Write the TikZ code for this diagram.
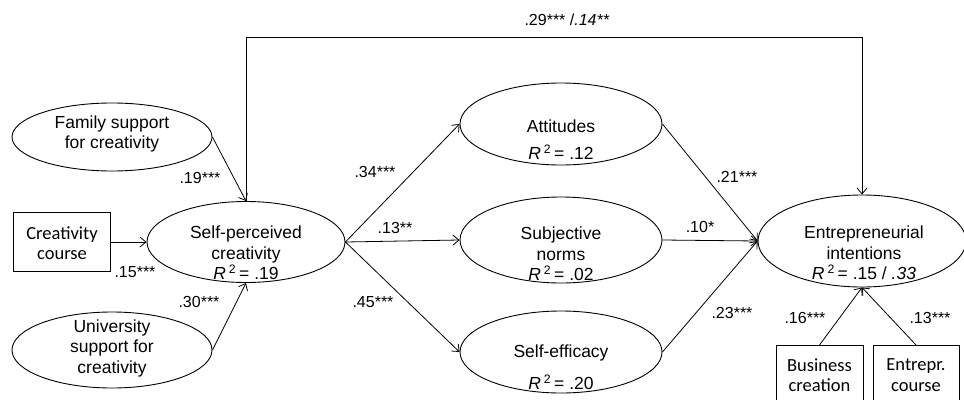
\documentclass[tikz,border=0pt]{standalone}
\usepackage{fontspec}
\setmainfont{Liberation Sans}
\newfontfamily\calfont{Carlito}
\usetikzlibrary{shapes.geometric,arrows.meta}
\newcommand{\rsq}{\textit{R}\,\textsuperscript{2}\,=}
\begin{document}
\begin{tikzpicture}[x=1pt,y=-1pt,
 lat/.style={draw,ellipse,line width=0.9pt,inner sep=0pt},
 obs/.style={draw,rectangle,line width=0.9pt,inner sep=0pt},
 txt/.style={align=center,font=\fontsize{17.5}{20.5}\selectfont,inner sep=0pt},
 btxt/.style={align=center,font=\calfont\fontsize{18.5}{20.5}\selectfont,inner sep=0pt},
 lab/.style={font=\fontsize{16}{18}\selectfont,inner sep=0pt},
 arr/.style={line width=0.8pt,-{Straight Barb[length=6pt,width=10pt]}},
]
\useasboundingbox (0,0) rectangle (964,399);
% shapes
\node[lat,minimum width=200pt,minimum height=68pt] (fam) at (112,137) {};
\node[obs,minimum width=97pt,minimum height=59pt] (cc) at (62,242) {};
\node[lat,minimum width=198pt,minimum height=81pt] (sp) at (246,242) {};
\node[lat,minimum width=200pt,minimum height=76pt] (uni) at (112,350) {};
\node[lat,minimum width=202pt,minimum height=82pt] (att) at (561,124) {};
\node[lat,minimum width=202pt,minimum height=86pt] (sn) at (561,240) {};
\node[lat,minimum width=202pt,minimum height=82pt] (se) at (561,352) {};
\node[lat,minimum width=208pt,minimum height=92pt] (ei) at (862,241) {};
\node[obs,minimum width=87pt,minimum height=60pt,anchor=north] (bc) at (819.5,345) {};
\node[obs,minimum width=86pt,minimum height=60pt,anchor=north] (ec) at (916,345) {};
% texts
\node[txt] (famt) at (112,134) {Family support\\for creativity};
\node[btxt] (cct) at (62,243) {Creativity\\course};
\node[txt] (spt) at (246,253) {Self-perceived\\creativity\\\rsq{} .19};
\node[txt] (unit) at (112,348) {University\\support for\\creativity};
\node[txt] (attt) at (561,126) {Attitudes};
\node[txt] (attr) at (561,152) {\rsq{} .12};
\node[txt] (snt) at (561,254) {Subjective\\norms\\\rsq{} .02};
\node[txt] (set) at (561,353) {Self-efficacy};
\node[txt] (ser) at (561,382) {\rsq{} .20};
\node[txt] (eit) at (864,253) {Entrepreneurial\\intentions\\\rsq{} .15 / \textit{.33}};
\node[btxt] (bct) at (819.5,375) {Business\\creation};
\node[btxt] (ect) at (916,375) {Entrepr.\\course};
% connectors
\draw[arr] (fam.east) -- (sp.north);
\draw[arr] (cc.east) -- (sp.west);
\draw[arr] (uni.east) -- (sp.south);
\draw[arr] (sp.east) -- (att.west);
\draw[arr] (sp.east) -- (sn.west);
\draw[arr] (sp.east) -- (se.west);
\draw[arr] (att.east) -- (ei.west);
\draw[arr] (sn.east) -- (ei.west);
\draw[arr] (se.east) -- (ei.west);
\draw[arr] (bc.north) -- (ei.south);
\draw[arr] (ec.north) -- (ei.south);
\draw[arr] (sp.north) -- (sp.north |- 0,37) -- (ei.north |- 0,37) -- (ei.north);
% labels
\node[lab] (l1) at (567,20) {.29*** /\textit{.14**}};
\node[lab] (l2) at (200,178) {.19***};
\node[lab] (l3) at (135,272) {.15***};
\node[lab] (l4) at (199,302) {.30***};
\node[lab] (l5) at (375,172) {.34***};
\node[lab] (l6) at (395,228) {.13**};
\node[lab] (l7) at (373,302) {.45***};
\node[lab] (l8) at (737,177) {.21***};
\node[lab] (l9) at (700,227) {.10*};
\node[lab] (l10) at (732,313) {.23***};
\node[lab] (l11) at (805,318) {.16***};
\node[lab] (l12) at (930,318) {.13***};
\end{tikzpicture}
\end{document}
